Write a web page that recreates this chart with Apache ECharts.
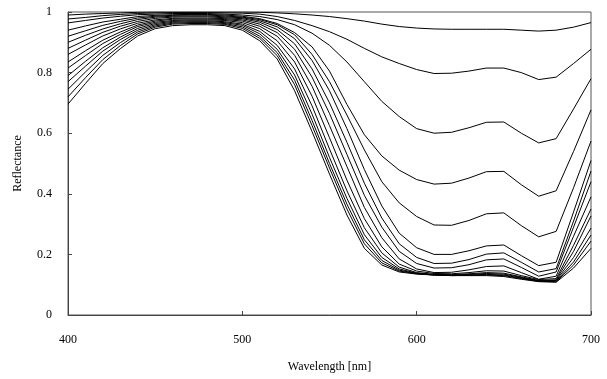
<!DOCTYPE html>
<html><head><meta charset="utf-8">
<script src="https://cdn.jsdelivr.net/npm/echarts@6/dist/echarts.min.js"></script>
<style>html,body{margin:0;padding:0;background:#fff}#c{width:607px;height:379px}</style>
</head><body><div id="c"></div>
<script>
const wavelengths = [400,410,420,430,440,450,460,470,480,490,500,510,520,530,540,550,560,570,580,590,600,610,620,630,640,650,660,670,680,690,700];
const curve00 = [0.99,0.993,0.995,0.997,0.999,1.0,1.0,1.0,1.0,1.0,1.0,0.999,0.997,0.994,0.99,0.985,0.978,0.97,0.96,0.952,0.947,0.944,0.943,0.943,0.943,0.943,0.94,0.937,0.94,0.95,0.965];
const curve01 = [0.977,0.982,0.988,0.992,0.995,0.997,0.998,0.998,0.998,0.997,0.996,0.993,0.985,0.972,0.955,0.935,0.91,0.88,0.852,0.83,0.81,0.797,0.798,0.805,0.815,0.815,0.8,0.777,0.785,0.83,0.877];
const curve02 = [0.964,0.972,0.98,0.986,0.991,0.993,0.995,0.995,0.995,0.993,0.99,0.985,0.975,0.958,0.93,0.89,0.835,0.77,0.705,0.655,0.615,0.6,0.603,0.618,0.636,0.637,0.6,0.568,0.582,0.68,0.78];
const curve03 = [0.94,0.954,0.967,0.976,0.985,0.989,0.991,0.992,0.992,0.99,0.986,0.978,0.962,0.932,0.885,0.805,0.695,0.595,0.525,0.478,0.447,0.432,0.435,0.452,0.473,0.474,0.43,0.392,0.41,0.54,0.677];
const curve04 = [0.92,0.938,0.956,0.969,0.98,0.986,0.989,0.99,0.99,0.987,0.983,0.975,0.958,0.925,0.86,0.77,0.66,0.545,0.44,0.37,0.325,0.297,0.296,0.312,0.334,0.337,0.295,0.258,0.276,0.42,0.574];
const curve05 = [0.9,0.923,0.944,0.961,0.975,0.983,0.986,0.987,0.987,0.984,0.981,0.971,0.951,0.912,0.84,0.74,0.615,0.48,0.36,0.27,0.222,0.2,0.2,0.212,0.228,0.231,0.196,0.163,0.174,0.34,0.51];
const curve06 = [0.88,0.907,0.933,0.953,0.969,0.979,0.983,0.984,0.984,0.981,0.978,0.966,0.942,0.895,0.812,0.7,0.57,0.435,0.32,0.235,0.19,0.17,0.171,0.183,0.201,0.205,0.174,0.142,0.153,0.31,0.475];
const curve07 = [0.86,0.891,0.921,0.944,0.963,0.974,0.979,0.98,0.98,0.978,0.974,0.96,0.932,0.877,0.785,0.665,0.53,0.395,0.29,0.21,0.17,0.155,0.156,0.166,0.182,0.185,0.157,0.128,0.142,0.29,0.44];
const curve08 = [0.835,0.872,0.907,0.934,0.957,0.97,0.976,0.977,0.977,0.975,0.97,0.953,0.92,0.857,0.755,0.625,0.49,0.355,0.255,0.185,0.152,0.14,0.141,0.149,0.16,0.162,0.14,0.118,0.128,0.26,0.39];
const curve09 = [0.815,0.856,0.896,0.926,0.952,0.966,0.972,0.974,0.974,0.972,0.965,0.945,0.905,0.835,0.722,0.585,0.445,0.318,0.225,0.168,0.145,0.137,0.136,0.14,0.146,0.145,0.13,0.117,0.12,0.23,0.35];
const curve10 = [0.79,0.837,0.882,0.917,0.946,0.962,0.969,0.971,0.971,0.968,0.96,0.936,0.89,0.812,0.69,0.548,0.41,0.288,0.205,0.158,0.14,0.134,0.133,0.136,0.14,0.138,0.126,0.114,0.116,0.21,0.327];
const curve11 = [0.77,0.821,0.871,0.909,0.94,0.958,0.966,0.968,0.968,0.965,0.956,0.928,0.877,0.792,0.663,0.52,0.385,0.265,0.19,0.152,0.138,0.133,0.132,0.134,0.137,0.135,0.124,0.113,0.114,0.19,0.287];
const curve12 = [0.745,0.802,0.857,0.899,0.934,0.954,0.963,0.965,0.965,0.962,0.951,0.92,0.866,0.775,0.642,0.5,0.366,0.248,0.18,0.148,0.137,0.132,0.131,0.132,0.134,0.132,0.122,0.112,0.112,0.175,0.264];
const curve13 = [0.72,0.783,0.843,0.889,0.928,0.95,0.96,0.962,0.962,0.959,0.946,0.913,0.856,0.76,0.625,0.485,0.35,0.235,0.172,0.145,0.136,0.132,0.13,0.131,0.132,0.13,0.12,0.111,0.11,0.165,0.244];
const curve14 = [0.696,0.764,0.83,0.879,0.921,0.945,0.955,0.958,0.958,0.955,0.94,0.905,0.845,0.74,0.605,0.465,0.33,0.22,0.165,0.142,0.135,0.132,0.13,0.13,0.13,0.127,0.118,0.11,0.108,0.155,0.22];
const curves = [curve00,curve01,curve02,curve03,curve04,curve05,curve06,curve07,curve08,curve09,curve10,curve11,curve12,curve13,curve14];
const xTicks = [400,500,600,700];
const yTicks = [0,0.2,0.4,0.6,0.8,1];

const font = '"Liberation Serif", "Times New Roman", serif';
const chart = echarts.init(document.getElementById('c'), null, {renderer:'canvas'});
chart.setOption({
  animation:false,
  backgroundColor:'#fff',
  grid:{left:68,right:16,top:12,bottom:64,show:true,borderColor:'#555',borderWidth:1,backgroundColor:'transparent'},
  xAxis:{type:'value',min:xTicks[0],max:xTicks[xTicks.length-1],interval:100,
    name:'Wavelength [nm]',nameLocation:'middle',nameGap:46,
    nameTextStyle:{fontFamily:font,fontSize:12,color:'#000'},
    axisLine:{show:true,lineStyle:{color:'#444',width:1}},
    axisTick:{show:true,inside:true,length:4,lineStyle:{color:'#444'}},
    axisLabel:{fontFamily:font,fontSize:12,color:'#000',margin:19},
    splitLine:{show:false}},
  yAxis:{type:'value',min:yTicks[0],max:yTicks[yTicks.length-1],interval:0.2,
    name:'Reflectance',nameLocation:'middle',nameGap:44,nameRotate:90,
    nameTextStyle:{fontFamily:font,fontSize:12,color:'#000'},
    axisLine:{show:true,lineStyle:{color:'#444',width:1}},
    axisTick:{show:true,inside:true,length:4,lineStyle:{color:'#444'}},
    axisLabel:{fontFamily:font,fontSize:12,color:'#000',margin:16},
    splitLine:{show:false}},
  series: curves.map((c,i)=>({
    type:'line',name:'c'+i,showSymbol:false,symbol:'none',
    lineStyle:{color:'#000',width:1},
    data: wavelengths.map((w,j)=>[w,c[j]])
  }))
});
</script>
</body></html>
